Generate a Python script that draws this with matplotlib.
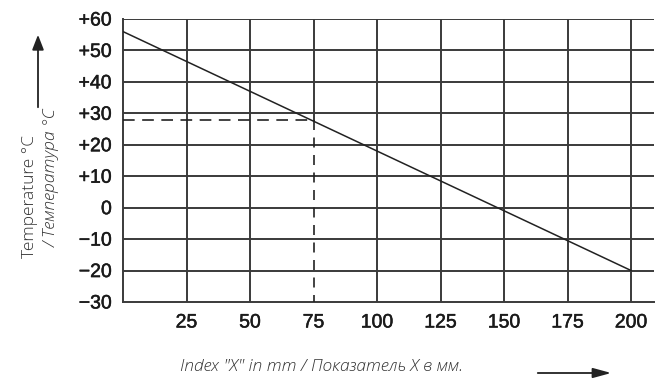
import matplotlib.pyplot as plt
import matplotlib.patheffects as pe
from matplotlib.patches import FancyArrowPatch

# данные графика
x_ticks = [25, 50, 75, 100, 125, 150, 175, 200]
y_ticks = [-30, -20, -10, 0, 10, 20, 30, 40, 50, 60]
y_labels = ["\u221230", "\u221220", "\u221210", "0", "+10", "+20", "+30", "+40", "+50", "+60"]
line_x = [0, 200]
line_t = [56, -20]
mark_x = 75
mark_t = 28

plt.rcParams["font.family"] = ["Liberation Sans", "DejaVu Sans"]

fig = plt.figure(figsize=(6.62, 3.8), dpi=100)
ax = fig.add_axes([123 / 662, 1 - 302 / 380, (654 - 123) / 662, (302 - 19) / 380])

ax.set_xlim(0, 209)
ax.set_ylim(-30, 60)

grid_c = "#3a3a3a"
for xv in x_ticks:
    if xv == mark_x:
        # над отметкой сплошная, ниже пунктир
        ax.plot([xv, xv], [mark_t, 60], color=grid_c, lw=1.4, zorder=1)
    else:
        ax.axvline(xv, color=grid_c, lw=1.4, zorder=1)
for yv in y_ticks[1:]:
    ax.axhline(yv, color=grid_c, lw=1.4, zorder=1)

ax.plot(line_x, line_t, color="#222222", lw=1.1, zorder=3)
ax.plot([0, mark_x], [mark_t, mark_t], color="#222222", lw=1.2, ls=(0, (7, 4.5)), zorder=3)
ax.plot([mark_x, mark_x], [mark_t, -30], color="#222222", lw=1.2, ls=(0, (6, 4.5)), zorder=3)

for s in ["top", "right"]:
    ax.spines[s].set_visible(False)
for s in ["left", "bottom"]:
    ax.spines[s].set_color(grid_c)
    ax.spines[s].set_linewidth(1.4)

ax.set_xticks(x_ticks)
ax.set_yticks(y_ticks)
ax.set_yticklabels(y_labels)
ax.tick_params(length=0, labelsize=14, colors="#1a1a1a")
ax.tick_params(axis="y", pad=8)
ax.tick_params(axis="x", pad=9)
for lab in ax.get_xticklabels() + ax.get_yticklabels():
    lab.set_path_effects([pe.withStroke(linewidth=0.35, foreground="#1a1a1a")])

# подписи осей
lab_font = dict(family="Open Sans", fontsize=12.5, color="#333333", fontweight="light")
fig.text(30 / 662, 1 - 196 / 380, "Temperature °C", rotation=90, ha="center", va="center", **lab_font)
fig.text(52 / 662, 1 - 178 / 380, "/ Температура °C", rotation=90, ha="center", va="center",
         style="italic", **lab_font)
fig.text(322 / 662, 1 - 367 / 380, 'Index "X" in mm / Показатель X в мм.', ha="center", va="center",
         style="italic", **lab_font)

# стрелки
fig.patches.append(FancyArrowPatch(
    (38 / 662, 1 - 110 / 380), (38 / 662, 1 - 32 / 380), transform=fig.transFigure,
    arrowstyle="-|>,head_length=9,head_width=3.5", color="#222222", lw=1.3))
fig.patches.append(FancyArrowPatch(
    (535 / 662, 1 - 373 / 380), (614 / 662, 1 - 373 / 380), transform=fig.transFigure,
    arrowstyle="-|>,head_length=11,head_width=3", color="#222222", lw=1.3))

fig.savefig("out.png", dpi=100)
